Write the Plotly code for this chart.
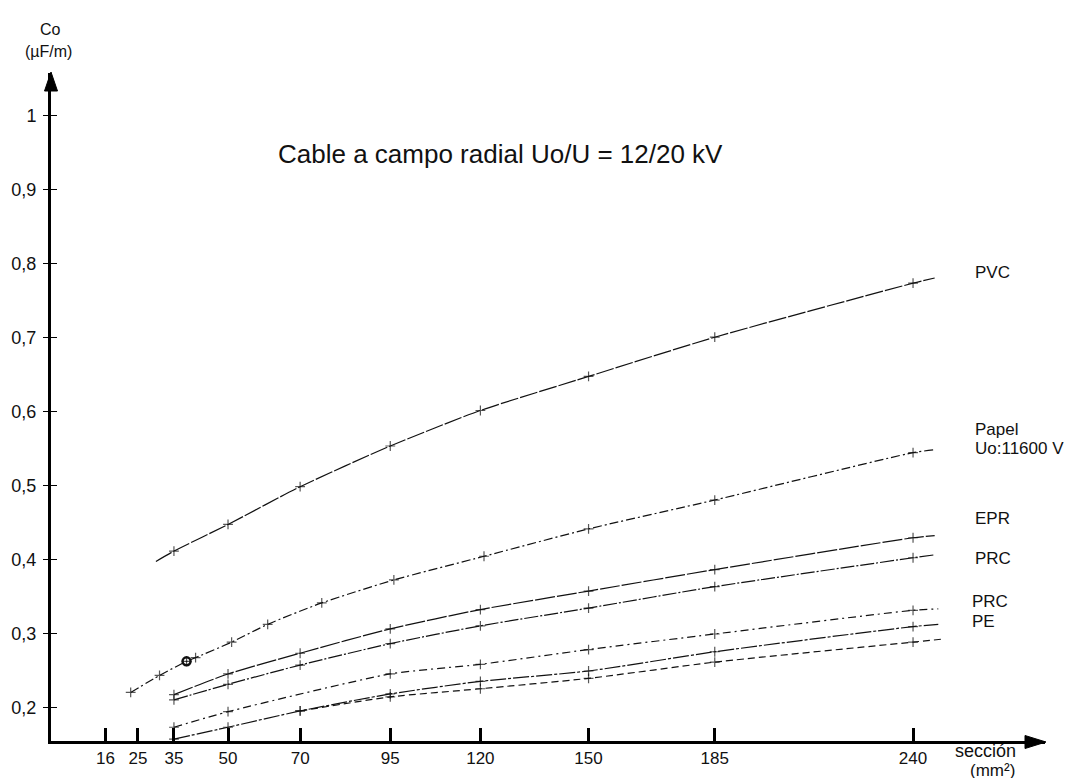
import plotly.graph_objects as go

# ---- axis data ----
x_tick_vals = [16, 25, 35, 50, 70, 95, 120, 150, 185, 240]
y_tick_vals = [0.2, 0.3, 0.4, 0.5, 0.6, 0.7, 0.8, 0.9, 1.0]
y_tick_text = ["0,2", "0,3", "0,4", "0,5", "0,6", "0,7", "0,8", "0,9", "1"]

# ---- series (section mm², capacity µF/m); last point of each = unmarked line end ----
pvc_x = [30, 35, 50, 70, 95, 120, 150, 185, 240, 246]
pvc_y = [0.398, 0.412, 0.448, 0.499, 0.554, 0.602, 0.648, 0.701, 0.774, 0.781]

papel_x = [23, 31, 38.5, 41, 51, 61, 76, 96, 121, 150, 185, 240, 246]
papel_y = [0.221, 0.244, 0.263, 0.268, 0.289, 0.313, 0.342, 0.373, 0.405, 0.442, 0.481, 0.545, 0.549]

epr_x = [35, 50, 70, 95, 120, 150, 185, 240, 246]
epr_y = [0.218, 0.246, 0.274, 0.307, 0.333, 0.358, 0.387, 0.430, 0.433]

prc_x = [35, 50, 70, 95, 120, 150, 185, 240, 246]
prc_y = [0.211, 0.232, 0.258, 0.287, 0.311, 0.335, 0.364, 0.403, 0.407]

prc2_x = [35, 50, 95, 120, 150, 185, 240, 247]
prc2_y = [0.174, 0.195, 0.246, 0.259, 0.279, 0.300, 0.332, 0.334]

pe_x = [35, 50, 70, 95, 120, 150, 185, 240, 247]
pe_y = [0.158, 0.174, 0.196, 0.219, 0.236, 0.250, 0.276, 0.310, 0.313]

pe2_x = [70, 95, 120, 150, 185, 240, 248]
pe2_y = [0.196, 0.215, 0.226, 0.240, 0.262, 0.289, 0.293]

series = [
    (pvc_x, pvc_y, "18px,2px", True),
    (papel_x, papel_y, "9px,3px,2px,3px", False),
    (epr_x, epr_y, "20px,2px", False),
    (prc_x, prc_y, "14px,2px,2px,2px", False),
    (prc2_x, prc2_y, "8px,4px,2px,4px", False),
    (pe_x, pe_y, "16px,2px,3px,2px", False),
    (pe2_x, pe2_y, "7px,4px", False),
]

fig = go.Figure()
for xs, ys, dash, first_unmarked in series:
    n = len(xs)
    sizes = [7] * n
    sizes[-1] = 0
    if first_unmarked:
        sizes[0] = 0
    fig.add_trace(go.Scatter(
        x=xs, y=ys, mode="lines+markers",
        line=dict(color="#111", width=1.2, dash=dash, shape="spline", smoothing=0.6),
        marker=dict(symbol="cross-thin", size=sizes, color="#111",
                    line=dict(color="#111", width=1.2)),
        showlegend=False, hoverinfo="skip",
    ))

# small circle on the Papel curve
fig.add_trace(go.Scatter(
    x=[papel_x[2]], y=[papel_y[2]], mode="markers",
    marker=dict(symbol="circle-open", size=8, color="#111", line=dict(color="#111", width=2.5)),
    showlegend=False, hoverinfo="skip",
))

W, H = 1072, 778
L, R, T, B = 43, 35, 65, 45
pw, ph = W - L - R, H - T - B

font = "Liberation Sans, Arial, Helvetica, sans-serif"

fig.update_layout(
    width=W, height=H,
    margin=dict(l=L, r=R, t=T, b=B, autoexpand=False),
    paper_bgcolor="white", plot_bgcolor="white",
    font=dict(family=font, size=17, color="#111"),
    xaxis=dict(
        range=[0.9, 276.6], tickvals=x_tick_vals, ticktext=[str(v) for v in x_tick_vals],
        showline=True, linecolor="black", linewidth=3, showgrid=False, zeroline=False,
        ticks="inside", ticklen=13, tickwidth=2.5, tickcolor="black",
        ticklabelstandoff=0, tickfont=dict(size=17), automargin=False,
    ),
    yaxis=dict(
        range=[0.1554, 1.058], tickvals=y_tick_vals, ticktext=y_tick_text,
        showline=True, linecolor="black", linewidth=3, showgrid=False, zeroline=False,
        ticks="outside", ticklen=5, tickwidth=1, tickcolor="black",
        ticklabelstandoff=3, tickfont=dict(size=18), automargin=False,
    ),
    yaxis2=dict(
        overlaying="y", matches="y", side="left", showline=False, showgrid=False,
        zeroline=False, ticks="inside", ticklen=6, tickwidth=1, tickcolor="black",
        tickvals=y_tick_vals, showticklabels=False,
    ),
)

# invisible trace to activate yaxis2
fig.add_trace(go.Scatter(x=[None], y=[None], yaxis="y2", showlegend=False, hoverinfo="skip"))

def px2paper(x, y):
    return (x - L) / pw, (H - B - y) / ph

# arrowheads
ax0, ay0 = px2paper(43, 64)
ax1, ay1 = px2paper(43 - 6.5, 83)
ax2, _ = px2paper(43 + 6.5, 83)
fig.add_shape(type="path", xref="paper", yref="paper",
              path=f"M {ax0} {ay0} L {ax1} {ay1} L {ax2} {ay1} Z",
              fillcolor="black", line=dict(color="black", width=1))
bx0, by0 = px2paper(1038, 734)
bx1, by1 = px2paper(1017, 734 - 6.5)
_, by2 = px2paper(1017, 734 + 6.5)
fig.add_shape(type="path", xref="paper", yref="paper",
              path=f"M {bx0} {by0} L {bx1} {by1} L {bx1} {by2} Z",
              fillcolor="black", line=dict(color="black", width=1))

def ann(text, x, y, size=17, xanchor="left"):
    px, py = px2paper(x, y)
    fig.add_annotation(text=text, x=px, y=py, xref="paper", yref="paper",
                       showarrow=False, xanchor=xanchor, yanchor="middle",
                       font=dict(size=size, family=font, color="#111"))

ann("Cable a campo radial Uo/U = 12/20 kV", 268, 146, size=26)
ann("Co", 42, 21, size=16, xanchor="center")
ann("(µF/m)", 40, 44, size=16, xanchor="center")
ann("sección", 977, 743, size=18, xanchor="center")
ann("(mm²)", 984, 762, size=17, xanchor="center")

ann("PVC", 965, 264)
ann("Papel", 965, 421)
ann("Uo:11600 V", 965, 440)
ann("EPR", 965, 510)
ann("PRC", 965, 550)
ann("PRC", 962, 593)
ann("PE", 962, 613)

fig.write_html("out.html")
